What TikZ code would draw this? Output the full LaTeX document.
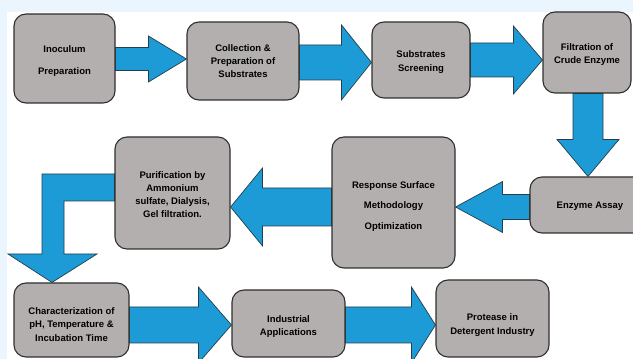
\documentclass[tikz,border=0pt]{standalone}
\usepackage{fontspec}
\setmainfont{Liberation Sans}
\usetikzlibrary{calc}
\definecolor{bgblue}{HTML}{EAF5FD}
\definecolor{boxgray}{HTML}{B3AFAE}
\definecolor{boxline}{HTML}{303030}
\definecolor{arrblue}{HTML}{1C9BD7}
\definecolor{arrline}{HTML}{263E4C}
\pgfdeclarelayer{bg}
\pgfdeclarelayer{arr}
\pgfsetlayers{bg,arr,main}
\tikzset{
  stepbox/.style={draw=boxline, line width=1.1pt, fill=boxgray, rounded corners=12pt,
    inner sep=0pt},
  lbl/.style={inner sep=0pt, align=center, font=\bfseries\fontsize{9.5}{13.2}\selectfont},
  barrow/.style={draw=arrline, line width=0.7pt, fill=arrblue, line join=miter}
}
% right-pointing block arrow: from, to, y, shaft half, head half, head length
\newcommand{\arrR}[6]{%
  \draw[barrow] let \p1=(#1.east), \p2=(#2.west) in
  (\x1,#3+#4) -- (\x2-#6,#3+#4) -- (\x2-#6,#3+#5) -- (\x2,#3) --
  (\x2-#6,#3-#5) -- (\x2-#6,#3-#4) -- (\x1,#3-#4) -- cycle;}
% left-pointing block arrow
\newcommand{\arrL}[6]{%
  \draw[barrow] let \p1=(#1.west), \p2=(#2.east) in
  (\x1,#3+#4) -- (\x2+#6,#3+#4) -- (\x2+#6,#3+#5) -- (\x2,#3) --
  (\x2+#6,#3-#5) -- (\x2+#6,#3-#4) -- (\x1,#3-#4) -- cycle;}
% down-pointing block arrow: from, to, x, shaft half, head half, head length
\newcommand{\arrD}[6]{%
  \draw[barrow] let \p1=(#1.south), \p2=(#2.north) in
  (#3-#4,\y1) -- (#3-#4,\y2+#6) -- (#3-#5,\y2+#6) -- (#3,\y2) --
  (#3+#5,\y2+#6) -- (#3+#4,\y2+#6) -- (#3+#4,\y1) -- cycle;}
\begin{document}
\begin{tikzpicture}[x=1pt,y=1pt]
\clip (0,0) rectangle (633,359);
\begin{pgfonlayer}{bg}
  \fill[white] (0,0) rectangle (633,359);
  \fill[bgblue] (0,347) rectangle (633,359);
  \fill[bgblue] (0,0) rectangle (7,359);
\end{pgfonlayer}

\node[stepbox, minimum width=101pt, minimum height=89pt] (inoc) at (64.5,300.5) {};
\node[lbl] (inoc-t) at ([yshift=-2.5pt]inoc.center) {Inoculum\\[9pt]Preparation};
\node[stepbox, minimum width=112pt, minimum height=78pt] (coll) at (243,298) {};
\node[lbl] (coll-t) at ([yshift=0pt]coll.center) {Collection \&\\Preparation of\\Substrates};
\node[stepbox, minimum width=98pt, minimum height=76pt] (subs) at (421,299) {};
\node[lbl] (subs-t) at ([yshift=-2pt]subs.center) {Substrates\\Screening};
\node[stepbox, minimum width=88pt, minimum height=81pt] (filt) at (587,306.5) {};
\node[lbl] (filt-t) at ([yshift=-2pt]filt.center) {Filtration of\\Crude Enzyme};
\node[stepbox, minimum width=120pt, minimum height=56pt] (assay) at (590,154) {};
\node[lbl] (assay-t) at ([yshift=-1pt]assay.center) {Enzyme Assay};
\node[stepbox, minimum width=123pt, minimum height=131pt] (rsm) at (393.5,156.5) {};
\node[lbl] (rsm-t) at ([yshift=-4pt]rsm.center) {Response Surface\\[7pt]Methodology\\[7pt]Optimization};
\node[stepbox, minimum width=115pt, minimum height=112pt] (puri) at (172.5,166) {};
\node[lbl] (puri-t) at ([yshift=-1.5pt]puri.center) {Purification by\\Ammonium\\sulfate, Dialysis,\\Gel filtration.};
\node[stepbox, minimum width=115pt, minimum height=74pt] (char) at (71.5,39) {};
\node[lbl] (char-t) at ([yshift=-4.5pt]char.center) {Characterization of\\pH, Temperature \&\\Incubation Time};
\node[stepbox, minimum width=113pt, minimum height=67pt] (indu) at (288.5,35.5) {};
\node[lbl] (indu-t) at ([yshift=-3pt]indu.center) {Industrial\\Applications};
\node[stepbox, minimum width=113pt, minimum height=77pt] (prot) at (492.5,40.5) {};
\node[lbl] (prot-t) at ([yshift=-6.5pt]prot.center) {Protease in\\Detergent Industry};

\begin{pgfonlayer}{arr}
  \arrR{inoc}{coll}{300}{11.5}{23}{38}
  \arrR{coll}{subs}{296.5}{17.5}{37.5}{30}
  \arrR{subs}{filt}{299}{17}{34}{29}
  \arrD{filt}{assay}{588}{15}{31}{37}
  \arrL{assay}{rsm}{152}{12.5}{25.5}{47}
  \arrL{rsm}{puri}{152}{19}{39}{32}
  \draw[barrow] let \p1=(puri.west), \p2=(char.north) in
    (\x1,185) -- (42,185) -- (42,105) -- (8,105) -- (52,\y2) -- (97,105) --
    (64,105) -- (64,158) -- (\x1,158) -- cycle;
  \arrR{char}{indu}{34}{18}{38}{33}
  \arrR{indu}{prot}{34}{18}{38}{24}
\end{pgfonlayer}
\end{tikzpicture}
\end{document}
